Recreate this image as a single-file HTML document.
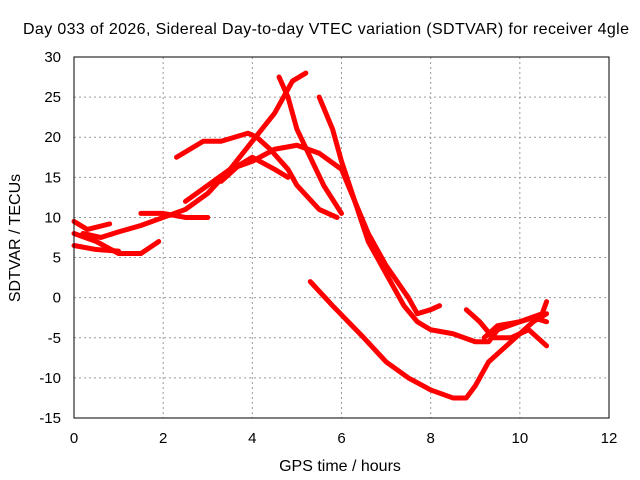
<!DOCTYPE html>
<html><head><meta charset="utf-8"><style>
body{margin:0;background:#fff}
svg{display:block;font-family:"Liberation Sans",sans-serif;font-size:15px}
</style></head><body>
<svg id="c" width="640" height="480">
<text x="326" y="34" text-anchor="middle" font-size="16" textLength="606" lengthAdjust="spacing">Day 033 of 2026, Sidereal Day-to-day VTEC variation (SDTVAR) for receiver 4gle</text>
<text x="340" y="471" text-anchor="middle" font-size="16">GPS time / hours</text>
<text transform="translate(20,238) rotate(-90)" text-anchor="middle" font-size="16">SDTVAR / TECUs</text>
<g id="grid"></g><g id="ticks"></g><g id="series"></g>
<rect x="74" y="57" width="535" height="361" fill="none" stroke="#000"/>
</svg>
<script>
const xTicks=[0,2,4,6,8,10,12];
const yTicks=[-15,-10,-5,0,5,10,15,20,25,30];
const t1=[[0,9.5],[0.3,8.5],[0.8,9.2]];
const t2=[[0,8],[0.5,7],[1,5.5],[1.5,5.5],[1.9,7]];
const t3=[[0,6.5],[0.5,6],[1,5.8]];
const t4=[[0.2,8],[0.6,7.5],[1,8.2],[1.5,9],[2,10],[2.5,11],[3,13],[3.5,16],[4,19.5],[4.5,23],[4.9,27],[5.2,28]];
const t5=[[1.5,10.5],[2,10.5],[2.5,10],[3,10]];
const t6=[[2.3,17.5],[2.6,18.5],[2.9,19.5],[3.3,19.5],[3.6,20],[3.9,20.5],[4.1,20],[4.4,18.5],[4.8,16],[5,14],[5.5,11],[5.9,10]];
const t7=[[2.5,12],[3,14],[3.5,16],[4,17],[4.5,18.5],[5,19],[5.5,18],[6,16],[6.3,12],[6.6,8],[7,4],[7.5,0],[7.7,-2],[8,-1.5],[8.2,-1]];
const t8=[[3.3,14.5],[3.7,16.5],[4,17.5],[4.5,16],[4.8,15]];
const t9=[[4.6,27.5],[4.8,25],[5,21],[5.3,17.5],[5.6,14],[6,10.5]];
const t10=[[5.5,25],[5.8,21],[6,17],[6.3,12],[6.6,7],[7,3],[7.4,-1],[7.7,-3],[8,-4],[8.5,-4.5],[9,-5.5],[9.3,-5.5],[9.5,-4],[10,-3],[10.5,-2],[10.6,-0.5]];
const t11=[[5.3,2],[5.8,-1],[6.5,-5],[7,-8],[7.5,-10],[8,-11.5],[8.5,-12.5],[8.8,-12.5],[9,-11],[9.3,-8],[9.7,-6],[10,-4.5],[10.3,-3],[10.6,-2]];
const t12=[[8.8,-1.5],[9.1,-3],[9.4,-5],[9.8,-5],[10.2,-4],[10.6,-6]];
const t13=[[9.2,-5],[9.5,-3.5],[10,-3],[10.3,-2.5],[10.6,-3]];
const tracks=[t1,t2,t3,t4,t5,t6,t7,t8,t9,t10,t11,t12,t13];
const X=v=>74+v*(535/12), Y=v=>418-(v+15)*(361/45);
const NS='http://www.w3.org/2000/svg';
const mk=(tag,at,p)=>{const e=document.createElementNS(NS,tag);for(const k in at)e.setAttribute(k,at[k]);p.appendChild(e);return e;};
const grid=document.getElementById('grid'),ticks=document.getElementById('ticks'),ser=document.getElementById('series');
xTicks.forEach(t=>{
 if(t>0&&t<12){const g=mk('line',{x1:X(t),x2:X(t),y1:57,y2:418,stroke:'#999','stroke-dasharray':'2,3'},grid);
 
 }
 const l=mk('text',{x:X(t),y:443,'text-anchor':'middle'},ticks);l.textContent=t;
 
 
});
yTicks.forEach(t=>{
 if(t>-15&&t<30){const g=mk('line',{x1:74,x2:609,y1:Y(t),y2:Y(t),stroke:'#999','stroke-dasharray':'2,3'},grid);
 
 }
 const l=mk('text',{x:61,y:Y(t)+5,'text-anchor':'end'},ticks);l.textContent=t;
 
 
});
tracks.forEach((tr,i)=>{
 const p=mk('polyline',{points:tr.map(d=>X(d[0])+','+Y(d[1])).join(' '),fill:'none',stroke:'#f00','stroke-width':5,'stroke-linejoin':'round','stroke-linecap':'round'},ser);
 
 
});
</script>
</body></html>
